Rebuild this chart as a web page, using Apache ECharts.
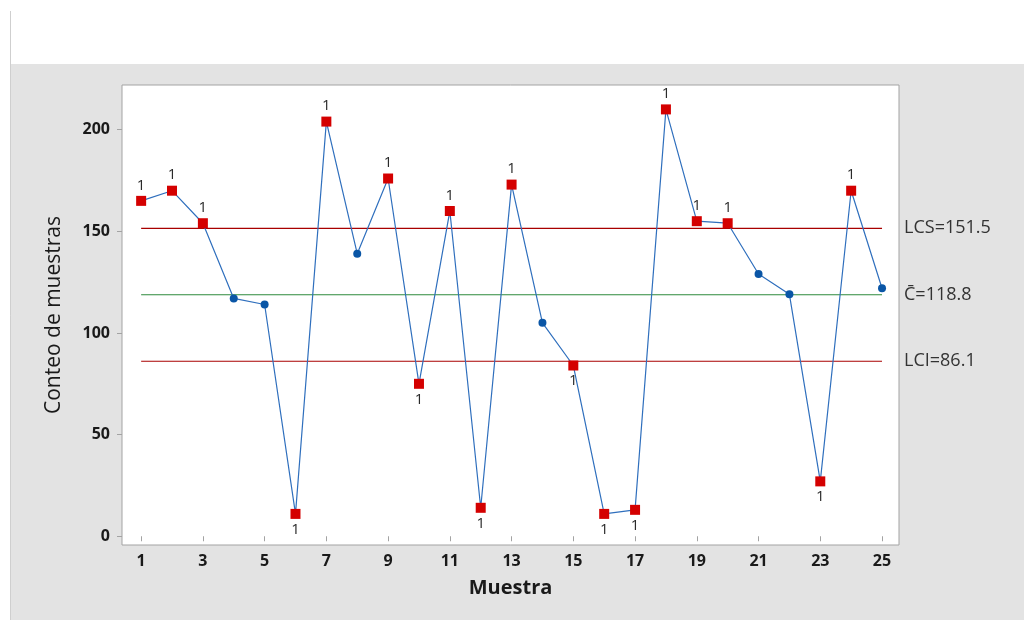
<!DOCTYPE html>
<html>
<head>
<meta charset="UTF-8">
<title>Gráfica C de Conteo de muestras</title>
<script type="text/javascript" src="https://cdn.jsdelivr.net/npm/echarts@6/dist/echarts.min.js"></script>
<style>
	html, body { margin: 0; padding: 0; background: #fff; }
</style>
</head>
<body>
	<div id="main" style="width: 1024px;height:620px;"></div>
</body>
<script type="text/javascript">
	// datos
	var muestras = [1,2,3,4,5,6,7,8,9,10,11,12,13,14,15,16,17,18,19,20,21,22,23,24,25];
	var conteos = [165,170,154,117,114,11,204,139,176,75,160,14,173,105,84,11,13,210,155,154,129,119,27,170,122];
	var xTicks = [1,3,5,7,9,11,13,15,17,19,21,23,25];
	var yTicks = [0,50,100,150,200];
	var LCS = 151.5, media = 118.8, LCI = 86.1;

	var fuente = 'Open Sans';
	var myChart = echarts.init(document.getElementById('main'));

	var puntos = [];
	for (var i = 0; i < muestras.length; i++) {
		var v = conteos[i];
		var fuera = v > LCS || v < LCI;
		var p = { value: [muestras[i], v] };
		if (fuera) {
			p.symbol = 'rect';
			p.symbolSize = 10;
			p.itemStyle = { color: '#d40000' };
			p.label = {
				show: true,
				formatter: '1',
				position: v > LCS ? 'top' : 'bottom',
				distance: 3,
				color: '#2a2a2a',
				fontFamily: fuente,
				fontSize: 15
			};
		}
		puntos.push(p);
	}

	// una linea de control como serie aparte (para que cada una tenga su color)
	function limite(valor, texto, color) {
		return {
			type: 'line',
			data: [[muestras[0], valor], [muestras[muestras.length - 1], valor]],
			symbol: 'none',
			silent: true,
			z: 2,
			lineStyle: { color: color, width: 1.2 },
			endLabel: {
				show: true,
				formatter: texto,
				distance: 22,
				fontFamily: fuente,
				fontSize: 18,
				color: '#333'
			}
		};
	}

	option = {
		backgroundColor: '#e3e3e3',
		animation: false,
		graphic: [
			{ type: 'rect', shape: { x: 0, y: 0, width: 1024, height: 64 }, style: { fill: '#fff' } },
			{ type: 'rect', shape: { x: 0, y: 0, width: 10, height: 620 }, style: { fill: '#fff' } },
			{ type: 'line', shape: { x1: 10.5, y1: 11, x2: 10.5, y2: 620 }, style: { stroke: '#cfcfcf', lineWidth: 1 } }
		],
		grid: {
			left: 122,
			top: 85,
			width: 777,
			height: 460,
			show: true,
			backgroundColor: '#fff',
			borderColor: '#a3a3a3',
			borderWidth: 1
		},
		xAxis: {
			type: 'value',
			min: 0.38,
			max: 25.55,
			name: 'Muestra',
			nameLocation: 'middle',
			nameGap: 33,
			nameTextStyle: { fontFamily: fuente, fontSize: 20, fontWeight: 'bold', color: '#1a1a1a' },
			axisLine: { show: false },
			axisTick: { show: true, length: 5, lineStyle: { color: '#a3a3a3' }, customValues: xTicks },
			axisLabel: { customValues: xTicks, fontFamily: fuente, fontSize: 16, fontWeight: 'bold', color: '#1a1a1a', margin: 8 },
			splitLine: { show: false }
		},
		yAxis: {
			type: 'value',
			min: -4.3,
			max: 222,
			name: 'Conteo de muestras',
			nameLocation: 'middle',
			nameGap: 57,
			nameTextStyle: { fontFamily: fuente, fontSize: 21, color: '#1a1a1a' },
			axisLine: { show: false },
			axisTick: { show: true, length: 5, lineStyle: { color: '#a3a3a3' }, customValues: yTicks },
			axisLabel: { customValues: yTicks, fontFamily: fuente, fontSize: 16, fontWeight: 'bold', color: '#1a1a1a', margin: 12 },
			splitLine: { show: false }
		},
		series: [
			limite(LCS, 'LCS=' + LCS.toFixed(1), '#a80000'),
			limite(media, 'C\u0304=' + media.toFixed(1), '#2e8a3c'),
			limite(LCI, 'LCI=' + LCI.toFixed(1), '#a80000'),
			{
				type: 'line',
				data: puntos,
				symbol: 'circle',
				symbolSize: 8,
				itemStyle: { color: '#0a56a6' },
				lineStyle: { color: '#2f6fbd', width: 1.2 },
				z: 5
			}
		]
	};
	myChart.setOption(option);
</script>
</html>
